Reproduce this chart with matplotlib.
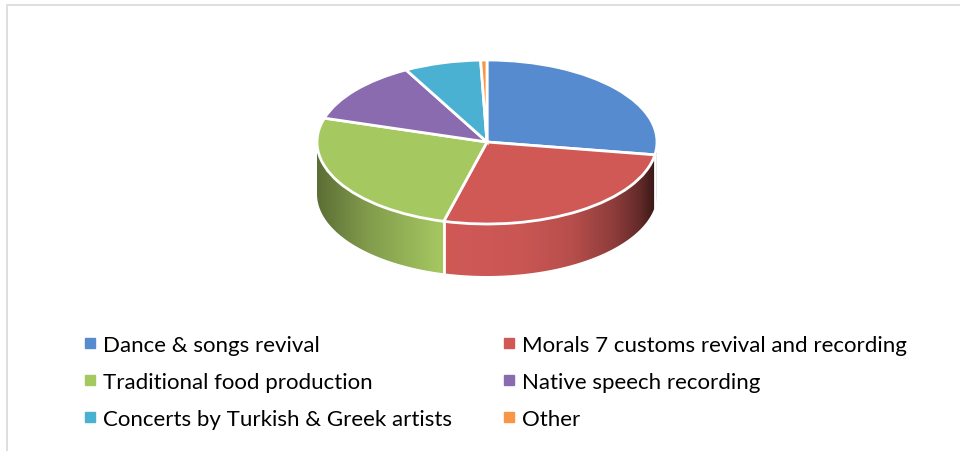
import matplotlib.pyplot as plt
import numpy as np
from matplotlib.patches import Polygon, Rectangle
from matplotlib.lines import Line2D

labels = ['Dance & songs revival', 'Morals 7 customs revival and recording',
          'Traditional food production', 'Native speech recording',
          'Concerts by Turkish & Greek artists', 'Other']
values = [27.5, 26.6, 25.6, 12.4, 7.3, 0.6]
colors = ['#568CCF', '#D05956', '#A6C861', '#8A6BAF', '#4BB1D2', '#F79646']

plt.rcParams['font.family'] = ['Lato', 'DejaVu Sans']

fig = plt.figure(figsize=(9.6, 4.52), dpi=100)

# light frame of the chart area
fig.add_artist(Rectangle((7 / 960, -0.05), 1.1, (452 - 6) / 452 + 0.05,
                         transform=fig.transFigure, fill=False,
                         edgecolor='#D9D9D9', linewidth=1.2))

depth = 0.634
ax = fig.add_axes([317 / 960, (452 - 277) / 452, 340 / 960, 216 / 452])

wedges, _ = ax.pie(values, colors=colors, startangle=90, counterclock=False,
                   wedgeprops=dict(edgecolor='white', linewidth=2, zorder=3))
for w in wedges:
    w.set_clip_on(False)
ax.set_aspect('auto')
ax.set_xlim(-1, 1)
ax.set_ylim(-1 - depth, 1)
ax.axis('off')

# side walls of the 3d pie, shaded left -> right
xs = np.linspace(-1, 1, 400)
shade = np.interp(xs, [-1, -0.7, -0.26, 0.2, 0.5, 0.75, 0.9, 1.0],
                  [0.55, 0.78, 1.0, 0.97, 0.88, 0.68, 0.48, 0.25])
bounds = np.concatenate([[0], np.cumsum(values)]) / sum(values) * 360
for i, col in enumerate(colors):
    a0, a1 = max(bounds[i], 90), min(bounds[i + 1], 270)
    if a1 <= a0:
        continue
    t = np.radians(np.linspace(a0, a1, 100))
    px, py = np.sin(t), np.cos(t)
    pts = np.vstack([np.column_stack([px, py]),
                     np.column_stack([px[::-1], py[::-1] - depth])])
    poly = Polygon(pts, closed=True, facecolor='none', edgecolor='none')
    ax.add_patch(poly)
    rgb = np.array(plt.matplotlib.colors.to_rgb(col))
    img = (shade[:, None] * rgb[None, :])[None, :, :]
    im = ax.imshow(img, extent=(-1, 1, -1 - depth, 0), aspect='auto',
                   zorder=1, interpolation='bilinear')
    im.set_clip_path(poly)

for b in bounds[1:-1]:
    if 90 < b < 270:
        tb = np.radians(b)
        ax.plot([np.sin(tb)] * 2, [np.cos(tb), np.cos(tb) - depth],
                color='white', linewidth=2, zorder=2)

order = [0, 2, 4, 1, 3, 5]
handles = [Line2D([], [], marker='s', linestyle='none', markersize=7,
                  markerfacecolor=colors[i], markeredgecolor=colors[i])
           for i in order]
fig.legend(handles, [labels[i] for i in order], ncol=2, frameon=False,
           loc='center left', bbox_to_anchor=(83 / 960, (452 - 383) / 452),
           fontsize=16, handlelength=0.6, handletextpad=0.3,
           columnspacing=2.25, labelspacing=0.77, borderpad=0,
           borderaxespad=0)

fig.savefig('out.png', dpi=100)
